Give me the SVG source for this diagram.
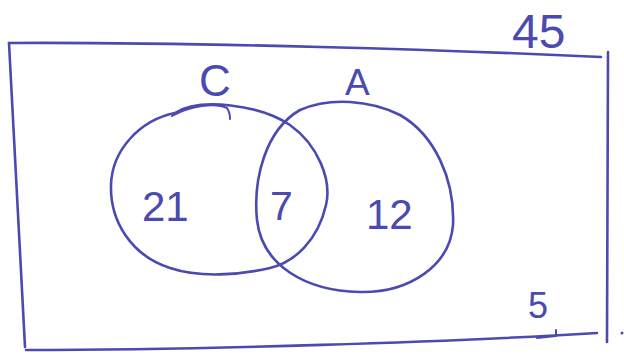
<svg xmlns="http://www.w3.org/2000/svg" width="624" height="354" viewBox="0 0 624 354">
<style>
.ink{fill:none;stroke:#4a4ab0;stroke-width:2.6;stroke-linecap:round;stroke-linejoin:round}
.t{fill:#4a4ab0;font-family:"Liberation Sans",Arial,sans-serif;font-weight:normal}
</style>
<rect width="624" height="354" fill="#ffffff"/>
<g id="universe">
<path class="ink" d="M9,43 C200,42 450,50 601,57"/>
<path class="ink" d="M608,52 L607,342"/>
<path class="ink" d="M9,43 C14,150 20,250 25,347"/>
<path class="ink" d="M26,350 C200,350 450,342 597,333"/>
<path class="ink" d="M537,338 L556,336 L556,330" style="stroke-width:2"/>
<circle cx="622" cy="333" r="1.5" fill="#4a4ab0"/>
<text class="t" x="512" y="48" font-size="48">45</text>
<text class="t" x="528" y="318" font-size="36">5</text>
</g>
<g id="set-C">
<path class="ink" d="M175,113 C200,97 260,105 290,125 C318,145 332,180 326,205 C318,240 295,262 270,268 C240,275 200,278 170,268 C130,255 110,220 111,185 C112,150 140,120 175,113 Z"/>
<path class="ink" d="M172,116 C190,106 215,102 227,108 C229,111 230,114 230,119" style="stroke-width:2"/>
<text class="t" x="199" y="96" font-size="44">C</text>
<text class="t" x="142" y="221" font-size="42">21</text>
</g>
<g id="set-A">
<path class="ink" d="M300,110 C330,97 370,100 400,115 C435,135 455,180 453,225 C450,265 410,293 360,292 C305,291 262,265 257,220 C253,180 265,130 300,110 Z"/>
<text class="t" x="345" y="95" font-size="37">A</text>
<text class="t" x="366" y="229" font-size="42">12</text>
</g>
<g id="intersection">
<text class="t" x="270" y="220" font-size="41">7</text>
</g>
<g id="connectors"/>
</svg>
